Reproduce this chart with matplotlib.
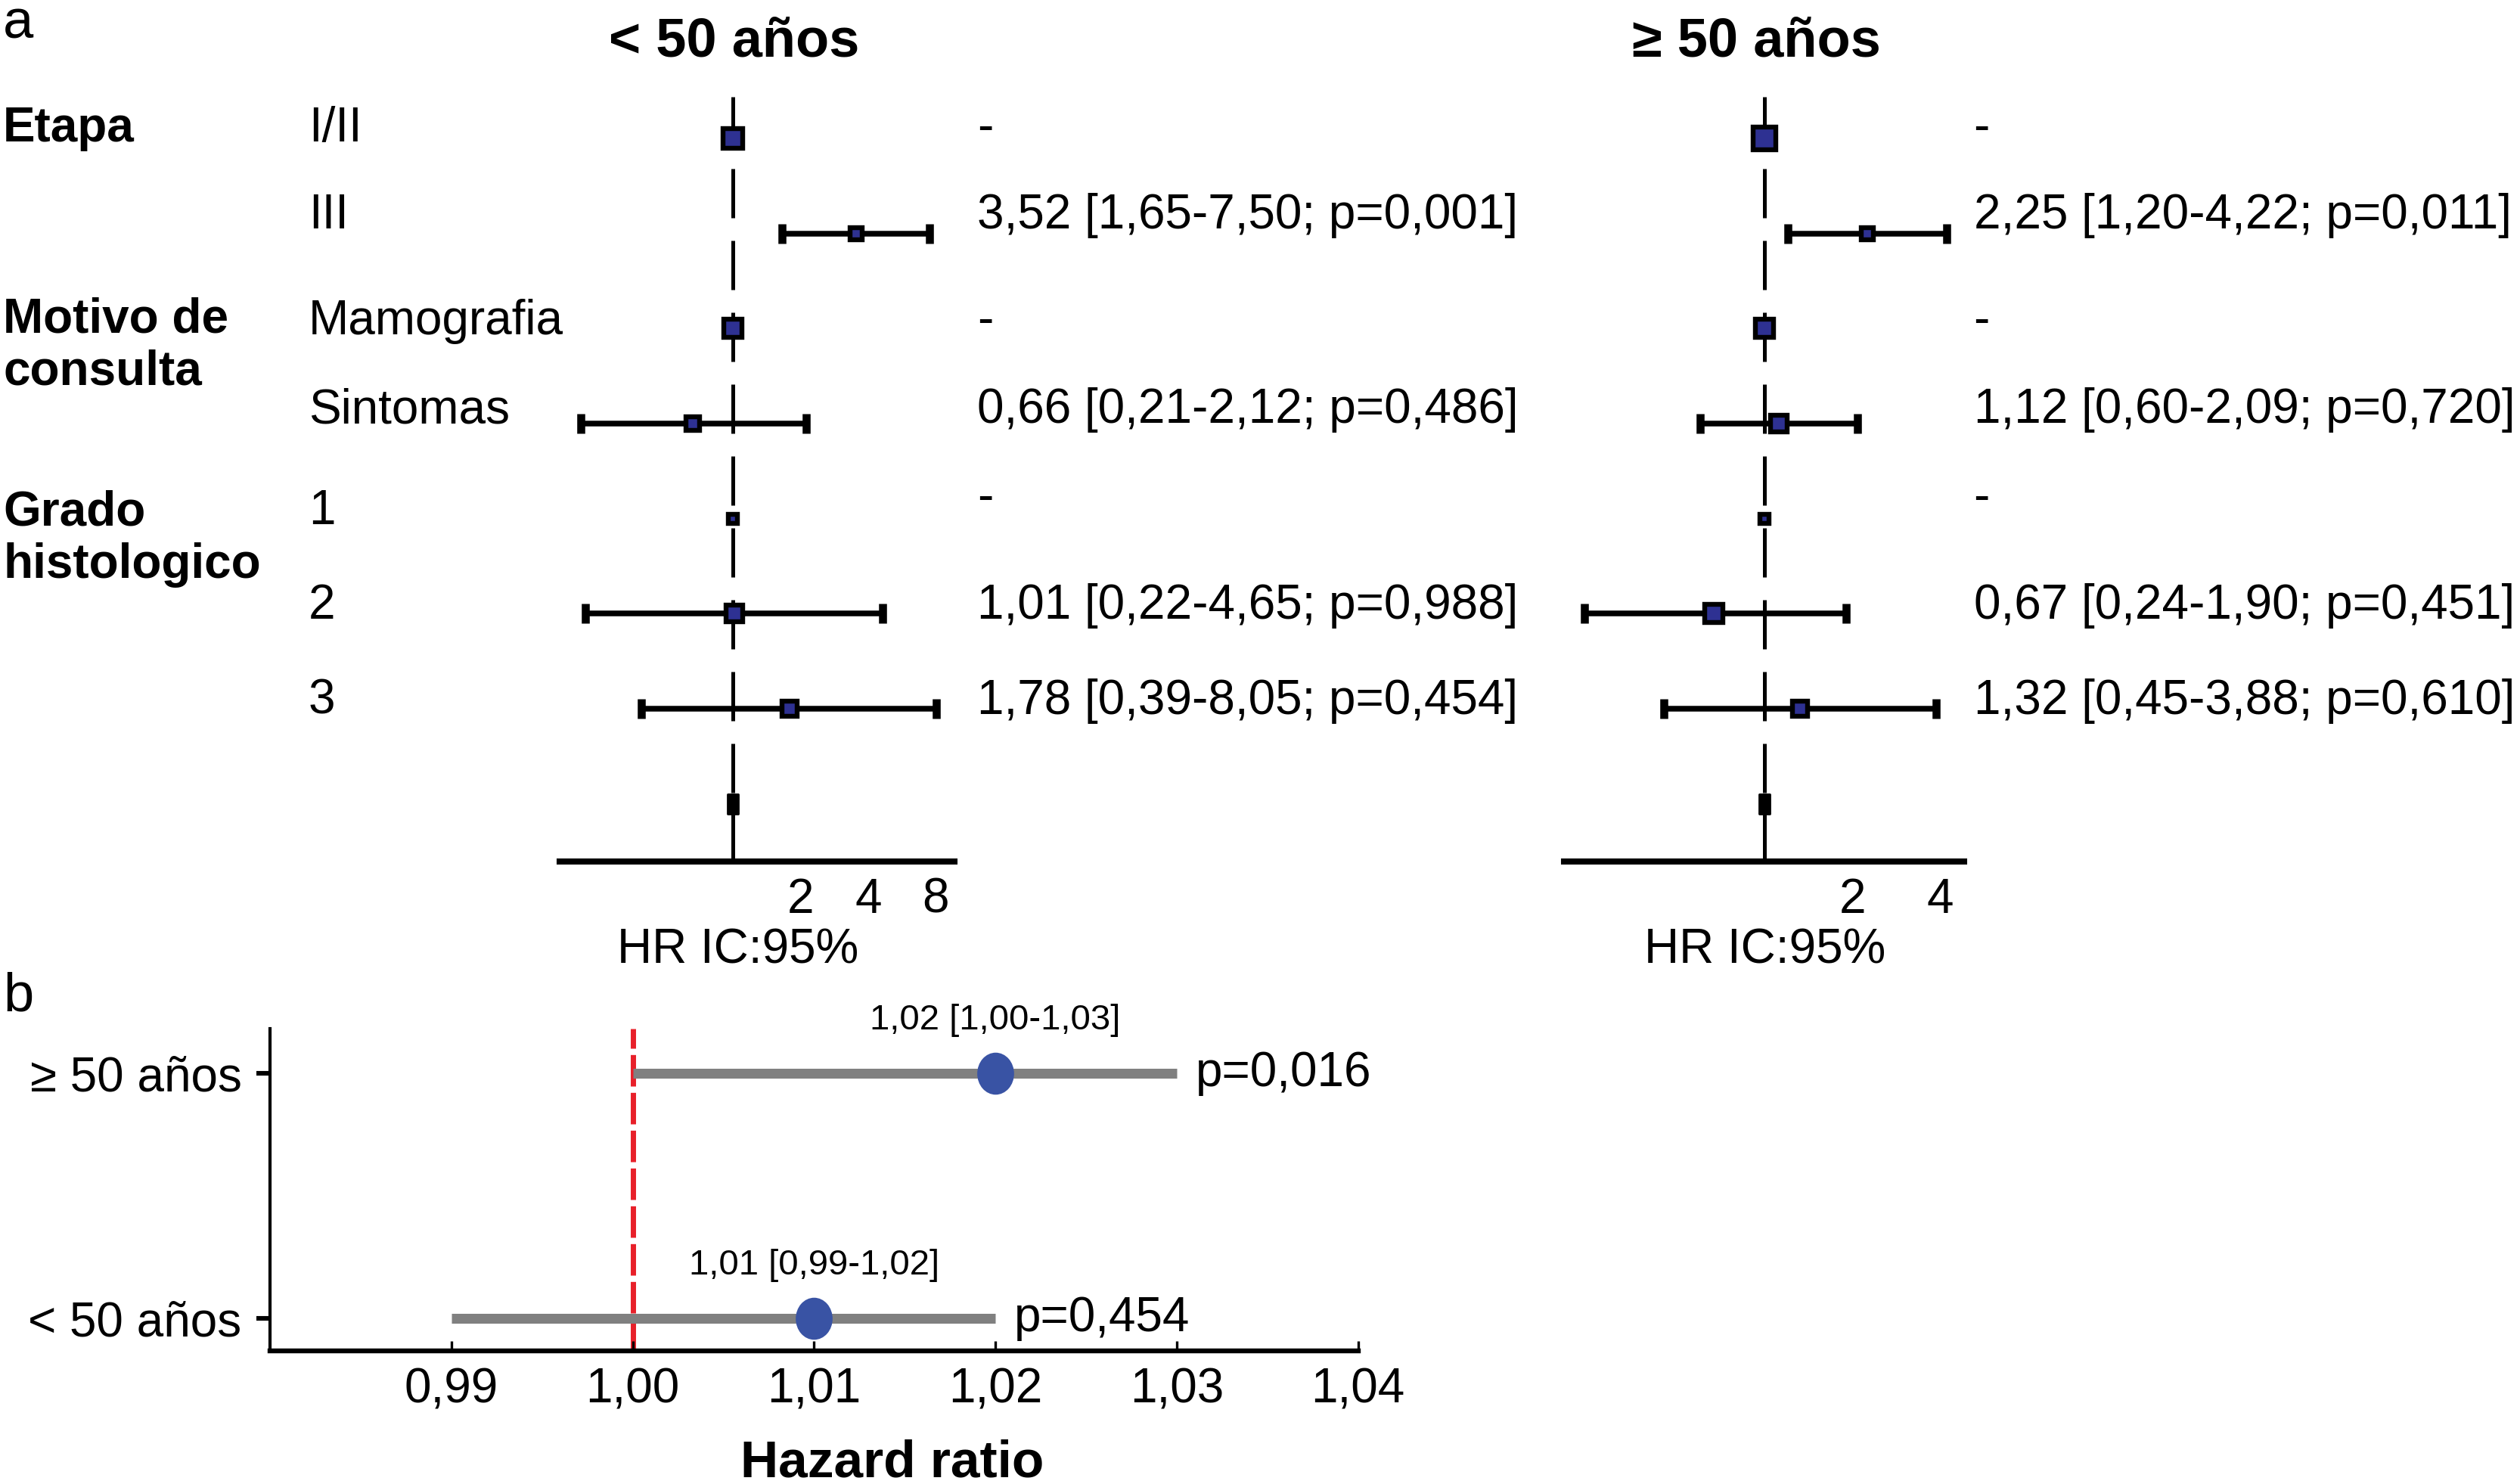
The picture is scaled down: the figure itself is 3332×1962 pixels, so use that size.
import numpy as np
import matplotlib
matplotlib.use('Agg')
import matplotlib.pyplot as plt
from matplotlib.path import Path
from matplotlib.ticker import NullLocator

plt.rcParams['font.family'] = ['Liberation Sans', 'DejaVu Sans']

# ---------------- data ----------------
group_titles = ["< 50 años", "≥ 50 años"]
variables = ["Etapa", "Motivo de\nconsulta", "Grado\nhistologico"]
levels = ["I/II", "III", "Mamografia", "Sintomas", "1", "2", "3"]

hr_lt50 = [1.0, 3.52, 1.0, 0.66, 1.0, 1.01, 1.78]
lo_lt50 = [np.nan, 1.65, np.nan, 0.21, np.nan, 0.22, 0.39]
hi_lt50 = [np.nan, 7.50, np.nan, 2.12, np.nan, 4.65, 8.05]
p_lt50 = [np.nan, 0.001, np.nan, 0.486, np.nan, 0.988, 0.454]
w_lt50 = [9.5, 5.6, 8.8, 6.2, 4.0, 8.0, 7.2]

hr_ge50 = [1.0, 2.25, 1.0, 1.12, 1.0, 0.67, 1.32]
lo_ge50 = [np.nan, 1.20, np.nan, 0.60, np.nan, 0.24, 0.45]
hi_ge50 = [np.nan, 4.22, np.nan, 2.09, np.nan, 1.90, 3.88]
p_ge50 = [np.nan, 0.011, np.nan, 0.720, np.nan, 0.451, 0.610]
w_ge50 = [10.5, 5.6, 8.8, 8.0, 4.0, 8.8, 7.2]

ticks_lt50 = [1, 2, 4, 6, 8]
ticklabels_lt50 = ["", "2", "4", "", "8"]
ticks_ge50 = [1, 2, 3, 4]
ticklabels_ge50 = ["", "2", "", "4"]

age_groups = ["< 50 años", "≥ 50 años"]
hr_cont = [1.01, 1.02]
lo_cont = [0.99, 1.00]
hi_cont = [1.02, 1.03]
p_cont = [0.454, 0.016]
xticks_b = [0.99, 1.00, 1.01, 1.02, 1.03, 1.04]

# ---------------- layout helpers ----------------
W, H = 1568.0, 923.0


def fx(x):
    return x / W


def fy(y):
    return 1 - y / H


def dec(v, n=2):
    return f"{v:.{n}f}".replace('.', ',')


def label(hr, lo, hi, p):
    if np.isnan(lo):
        return "-"
    return f"{dec(hr)} [{dec(lo)}-{dec(hi)}; p={dec(p, 3)}]"


fig = plt.figure(figsize=(16.66, 9.81), dpi=200)
FS = 23
NAVY = '#2e3192'

rect_marker = Path([(-0.25, -0.5), (0.25, -0.5), (0.25, 0.5), (-0.25, 0.5), (-0.25, -0.5)],
                   [Path.MOVETO, Path.LINETO, Path.LINETO, Path.LINETO, Path.CLOSEPOLY])
circ = Path.unit_circle()
ellipse_marker = Path(circ.vertices * np.array([0.87, 1.0]), circ.codes)


def forest(x0, x1, hr, lo, hi, w, xlim, ticks, ticklabels):
    ax = fig.add_axes([fx(x0), fy(536), fx(x1) - fx(x0), (536 - 60) / H])
    ax.set_xscale('log', base=2)
    ax.set_xlim(*xlim)
    n = len(hr)
    top, bottom = -0.44, n + 0.61
    ax.set_ylim(bottom, top)
    ax.plot([1, 1], [top, n], color='black', lw=1.8, dashes=(13, 6),
            solid_capstyle='butt', dash_capstyle='butt', zorder=1)
    ax.plot([1, 1], [n, bottom], color='black', lw=1.8, solid_capstyle='butt', zorder=1)
    for i in range(n):
        if not np.isnan(lo[i]):
            ax.errorbar(hr[i], i, xerr=[[hr[i] - lo[i]], [hi[i] - hr[i]]], fmt='none',
                        ecolor='black', elinewidth=2.7, capsize=4.8, capthick=3.8, zorder=2)
        ax.plot(hr[i], i, marker='s', ms=w[i], mfc=NAVY, mec='black', mew=2.3, zorder=3)
    ax.plot(1, n, marker=rect_marker, ms=9.6, color='black', zorder=3)
    for s in ['left', 'right', 'top']:
        ax.spines[s].set_visible(False)
    ax.spines['bottom'].set_linewidth(2.9)
    ax.set_yticks([])
    ax.set_xticks(ticks)
    ax.set_xticklabels(ticklabels)
    ax.xaxis.set_minor_locator(NullLocator())
    ax.tick_params(axis='x', direction='out', length=1.4, width=3.5, color='#666666',
                   labelsize=FS, pad=6)
    return ax


forest(348, 594, hr_lt50, lo_lt50, hi_lt50, w_lt50, (0.168, 9.7), ticks_lt50, ticklabels_lt50)
forest(973, 1222, hr_ge50, lo_ge50, hi_ge50, w_ge50, (0.204, 4.84), ticks_ge50, ticklabels_ge50)

# titles and axis labels
fig.text(fx(457), fy(26), group_titles[0], ha='center', va='center', fontsize=26, fontweight='bold')
fig.text(fx(1093), fy(26), group_titles[1], ha='center', va='center', fontsize=26, fontweight='bold')
fig.text(fx(459), fy(591), "HR IC:95%", ha='center', va='center', fontsize=FS)
fig.text(fx(1098), fy(591), "HR IC:95%", ha='center', va='center', fontsize=FS)

# row labels
var_y = [80, 215, 335]
for v, y in zip(variables, var_y):
    fig.text(fx(2), fy(y), v, ha='left', va='center', fontsize=FS, fontweight='bold',
             linespacing=1.2)
lvl_y = [80, 134, 200, 255, 318, 377, 436]
res_y = [80, 134, 200, 255, 310, 377, 436]
for i, (lv, y) in enumerate(zip(levels, lvl_y)):
    fig.text(fx(192), fy(y), lv, ha='left', va='center', fontsize=FS)
    fig.text(fx(608), fy(res_y[i]), label(hr_lt50[i], lo_lt50[i], hi_lt50[i], p_lt50[i]),
             ha='left', va='center', fontsize=FS)
    fig.text(fx(1228), fy(res_y[i]), label(hr_ge50[i], lo_ge50[i], hi_ge50[i], p_ge50[i]),
             ha='left', va='center', fontsize=FS)

fig.text(fx(2), fy(15), "a", ha='left', va='center', fontsize=26)
fig.text(fx(2), fy(620), "b", ha='left', va='center', fontsize=26)

# ---------------- panel b ----------------
axb = fig.add_axes([fx(168), fy(840), fx(845) - fx(168), (840 - 640) / H])
axb.set_xlim(0.98, 1.04)
axb.set_ylim(-0.13, 1.18)
ys = np.arange(len(age_groups))
axb.axvline(1.0, color='#e8202a', lw=2.5, dashes=(6, 1.2), zorder=1)
axb.hlines(ys, lo_cont, hi_cont, color='#808080', lw=4.7, zorder=2, capstyle='butt')
axb.plot(hr_cont, ys, ls='none', marker=ellipse_marker, ms=19, mfc='#3953a4',
         mec='#3953a4', zorder=3)
for y, h, l, u, p in zip(ys, hr_cont, lo_cont, hi_cont, p_cont):
    axb.text(h, y + 0.216, f"{dec(h)} [{dec(l)}-{dec(u)}]", ha='center', va='center',
             fontsize=17, clip_on=False)
    axb.annotate(f"p={dec(p, 3)}", xy=(u, y), xytext=(9, 0), textcoords='offset points',
                 ha='left', va='center', fontsize=FS, annotation_clip=False)
axb.set_yticks(ys)
axb.set_yticklabels(age_groups)
axb.set_xticks(xticks_b)
axb.set_xticklabels([dec(t) for t in xticks_b])
for s in ['right', 'top']:
    axb.spines[s].set_visible(False)
axb.spines['bottom'].set_linewidth(2.3)
axb.spines['left'].set_linewidth(1.5)
axb.tick_params(axis='x', direction='in', length=4.7, width=1.2, labelsize=FS, pad=8)
axb.tick_params(axis='y', direction='out', length=6.5, width=2.2, labelsize=FS, pad=7)
fig.text(fx(555), fy(910), "Hazard ratio", ha='center', va='center', fontsize=25,
         fontweight='bold')

fig.savefig('out.png', dpi=200)
